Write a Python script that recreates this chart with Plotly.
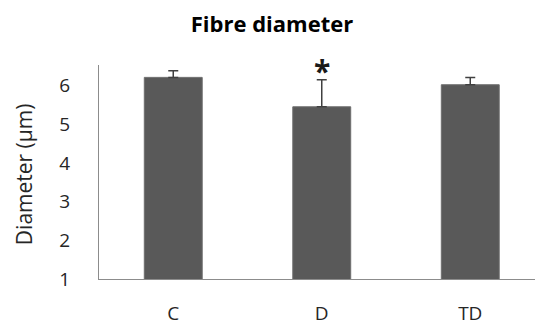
import plotly.graph_objects as go

categories = ["C", "D", "TD"]
values = [6.21, 5.45, 6.02]
errors_plus = [0.17, 0.70, 0.19]
errors_minus = [0, 0, 0]
y_ticks = [1, 2, 3, 4, 5, 6]

FONT = "Open Sans"
TXT = "#262626"

fig = go.Figure()
fig.add_trace(go.Bar(
    x=categories, y=values, width=0.39,
    marker=dict(color="#595959", line=dict(color="#6e6e6e", width=1)),
    error_y=dict(type="data", symmetric=False, array=errors_plus, arrayminus=errors_minus,
                 color="#404040", thickness=1.5, width=5),
    base=0,
))

fig.add_annotation(x="D", y=6.38, text="<b>*</b>", showarrow=False,
                   font=dict(family=FONT, size=30, color="#1a1a1a"), yanchor="middle")

fig.add_annotation(xref="paper", yref="paper", x=(24 - 99) / 436, y=0.49, text="Diameter (µm)",
                   textangle=-90, showarrow=False, xanchor="center", yanchor="middle",
                   font=dict(family=FONT, size=21, color=TXT))

fig.update_layout(
    width=535, height=329,
    margin=dict(l=99, r=0, t=65, b=50),
    paper_bgcolor="white", plot_bgcolor="white",
    showlegend=False,
    title=dict(text="<b>Fibre diameter</b>", x=0.5, xanchor="center", y=0.925, yanchor="middle",
               xref="paper", font=dict(family=FONT, size=22, color="#000000")),
    font=dict(family=FONT, size=19, color=TXT),
)
fig.update_layout(title_x=(272 - 99) / (535 - 99))
fig.update_xaxes(range=[-0.5, 2.436], showline=True, linecolor="#8c8c8c", linewidth=1.3,
                 ticks="", showgrid=False, ticklabelstandoff=17, zeroline=False,
                 tickfont=dict(family=FONT, size=19, color=TXT))
fig.update_yaxes(range=[1, 6.53], showline=True, linecolor="#8c8c8c", linewidth=1.3,
                 tickvals=y_ticks, ticks="", showgrid=False, zeroline=False,
                 ticklabelstandoff=24, tickfont=dict(family=FONT, size=19, color=TXT))

fig.write_html("out.html")
